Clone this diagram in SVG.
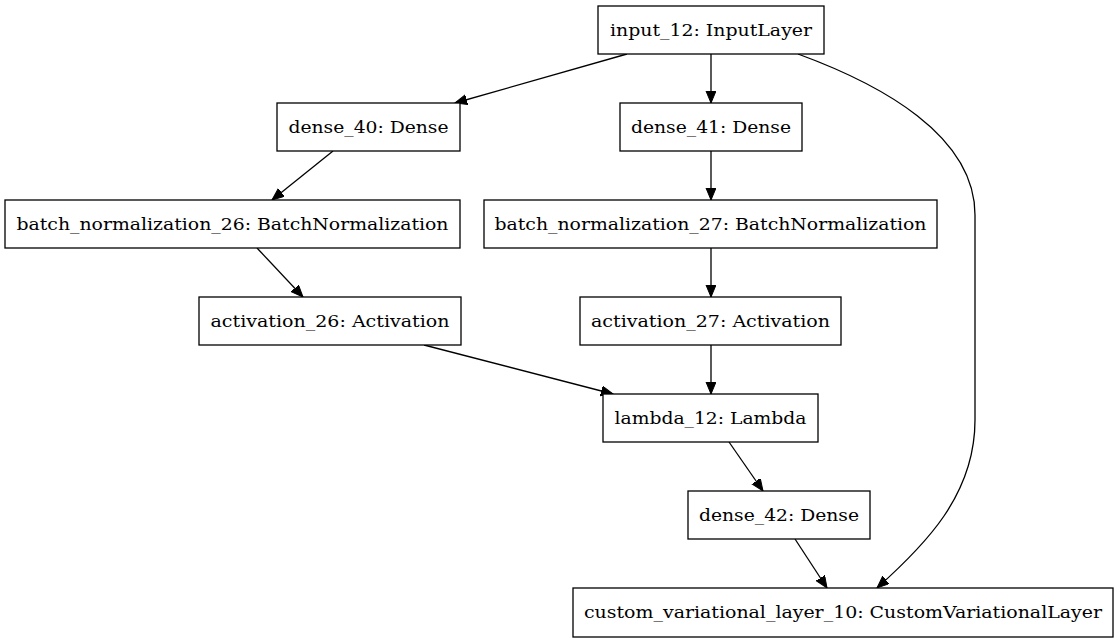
<svg xmlns="http://www.w3.org/2000/svg" width="1119" height="644" viewBox="0 0 1119 644">
<style>
.n rect{fill:#fff;stroke:#000;stroke-width:1.3}
.n text{font-family:"DejaVu Serif","Liberation Serif",serif;font-size:16px;text-anchor:middle;fill:#000}
.e path{fill:none;stroke:#000;stroke-width:1.3;marker-end:url(#ah)}
</style>
<defs>
<marker id="ah" markerUnits="userSpaceOnUse" markerWidth="14" markerHeight="12" refX="12" refY="5" orient="auto">
<path d="M0,0 L12,5 L0,10 Z" fill="#000" stroke="#000" stroke-width="1"/>
</marker>
</defs>
<rect width="1119" height="644" fill="#fff"/>
<g id="edges" class="e">
<path d="M627,54 L455,103"/>
<path d="M711,54 L711,103"/>
<path d="M333,151 L272,200"/>
<path d="M711,151 L711,200"/>
<path d="M257,248 L303,297"/>
<path d="M711,248 L711,297"/>
<path d="M424,345 L613,394"/>
<path d="M711,345 L711,394"/>
<path d="M729,442 L763,491"/>
<path d="M795,539 L827,588"/>
<path d="M798,54 C880,84 975,135 975,215 L975,420 C975,495 925,545 877,588"/>
</g>
<g id="input_12" class="n"><rect x="598" y="6" width="226" height="48"/><text x="711" y="36" textLength="202" lengthAdjust="spacingAndGlyphs">input_12: InputLayer</text></g>
<g id="dense_40" class="n"><rect x="277" y="103" width="183" height="48"/><text x="368.5" y="133" textLength="160" lengthAdjust="spacingAndGlyphs">dense_40: Dense</text></g>
<g id="dense_41" class="n"><rect x="620" y="103" width="182" height="48"/><text x="711" y="133" textLength="160" lengthAdjust="spacingAndGlyphs">dense_41: Dense</text></g>
<g id="bn26" class="n"><rect x="5" y="200" width="455" height="48"/><text x="232.5" y="230" textLength="432" lengthAdjust="spacingAndGlyphs">batch_normalization_26: BatchNormalization</text></g>
<g id="bn27" class="n"><rect x="484" y="200" width="453" height="48"/><text x="710.5" y="230" textLength="432" lengthAdjust="spacingAndGlyphs">batch_normalization_27: BatchNormalization</text></g>
<g id="act26" class="n"><rect x="199" y="297" width="262" height="48"/><text x="330" y="327" textLength="239" lengthAdjust="spacingAndGlyphs">activation_26: Activation</text></g>
<g id="act27" class="n"><rect x="580" y="297" width="261" height="48"/><text x="710.5" y="327" textLength="239" lengthAdjust="spacingAndGlyphs">activation_27: Activation</text></g>
<g id="lambda_12" class="n"><rect x="603" y="394" width="215" height="48"/><text x="710.5" y="424" textLength="192" lengthAdjust="spacingAndGlyphs">lambda_12: Lambda</text></g>
<g id="dense_42" class="n"><rect x="688" y="491" width="182" height="48"/><text x="779" y="521" textLength="160" lengthAdjust="spacingAndGlyphs">dense_42: Dense</text></g>
<g id="custom" class="n"><rect x="573" y="588" width="540" height="49"/><text x="843" y="618" textLength="518" lengthAdjust="spacingAndGlyphs">custom_variational_layer_10: CustomVariationalLayer</text></g>
</svg>
